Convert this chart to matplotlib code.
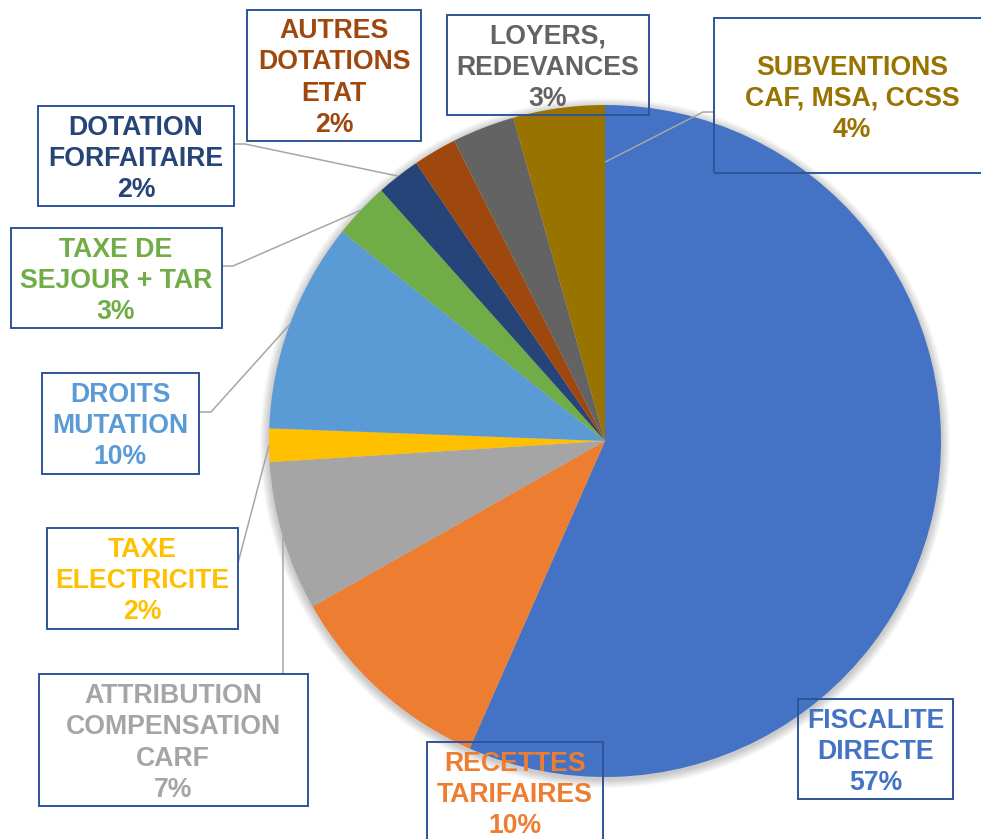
import numpy as np
import matplotlib
matplotlib.use("Agg")
import matplotlib.pyplot as plt
from matplotlib.patches import Rectangle, Circle

# data (share of revenue, %)
names = [
    "FISCALITE\nDIRECTE",
    "RECETTES\nTARIFAIRES",
    "ATTRIBUTION\nCOMPENSATION\nCARF",
    "TAXE\nELECTRICITE",
    "DROITS\nMUTATION",
    "TAXE DE\nSEJOUR + TAR",
    "DOTATION\nFORFAITAIRE",
    "AUTRES\nDOTATIONS\nETAT",
    "LOYERS,\nREDEVANCES",
    "SUBVENTIONS\nCAF, MSA, CCSS",
]
values = [56.6, 10.2, 7.2, 1.6, 10.1, 2.7, 2.1, 2.1, 3.0, 4.4]
colors = ["#4472C4", "#ED7D31", "#A5A5A5", "#FFC000", "#5B9BD5",
          "#70AD47", "#264478", "#9E480E", "#636363", "#997300"]

# layout, in pixels from the top-left corner
W, H = 981, 839
cx, cy, r = 605, 441, 336
boxes = [  # x0, y0, x1, y1
    (798, 699, 953, 799),
    (427, 742, 603, 860),
    (39, 674, 308, 806),
    (47, 528, 238, 629),
    (42, 373, 199, 474),
    (11, 228, 222, 328),
    (38, 106, 234, 206),
    (247, 10, 421, 141),
    (447, 15, 649, 115),
    (714, 18, 1000, 173),
]
text_pos = [(876, 752), (515, 795), (173, 743), (142, 581), (120, 426),
            (116, 281), (136, 159), (334, 78), (548, 68), (852, 99)]
leaders = {  # index: (points from box side, anchor on pie, radius fraction)
    9: ([(714, 112), (703, 112)], "end", 0.83),
    6: ([(234, 144), (245, 144)], "mid", 1.0),
    5: ([(222, 266), (233, 266)], "mid", 1.0),
    4: ([(199, 412), (211, 412)], "mid", 1.0),
    3: ([(238, 563)], "mid", 1.0),
    2: ([(283, 674)], "mid", 1.0),
}


def Y(y):
    return H - y


plt.rcParams["font.family"] = ["Liberation Sans", "DejaVu Sans"]
fig = plt.figure(figsize=(W / 100, H / 100), dpi=100)
ax = fig.add_axes([0, 0, 1, 1])

# soft shadow round the pie
for k in range(1, 10):
    ax.add_patch(Circle((cx, Y(cy + 2)), r + k, color="black", alpha=0.022, lw=0, zorder=0))

ax.pie(values, colors=colors, startangle=90, counterclock=False,
       center=(cx, Y(cy)), radius=r, frame=True,
       wedgeprops=dict(linewidth=0, zorder=1))

total = sum(values)
cum = np.concatenate([[0], np.cumsum(values)])

# leader lines
for i, (pts, kind, rf) in leaders.items():
    a0 = 360 * cum[i] / total
    a1 = 360 * cum[i + 1] / total
    ang = np.radians((a0 + a1) / 2 if kind == "mid" else a1)
    px = cx + rf * r * np.sin(ang)
    py = cy - rf * r * np.cos(ang)
    xs = [p[0] for p in pts] + [px]
    ys = [Y(p[1]) for p in pts] + [Y(py)]
    ax.plot(xs, ys, color="#A6A6A6", lw=1.1, zorder=3, solid_capstyle="butt")

# label boxes
for i, name in enumerate(names):
    x0, y0, x1, y1 = boxes[i]
    ax.add_patch(Rectangle((x0, Y(y1)), x1 - x0, y1 - y0, fill=False,
                           edgecolor="#2F5597", lw=1.4, zorder=4))
    pct = 100 * values[i] / total
    tx, ty = text_pos[i]
    ax.text(tx, Y(ty), f"{name}\n{pct:.0f}%", ha="center", va="center",
            color=colors[i], fontsize=19.2, fontweight="bold",
            linespacing=1.26, zorder=5)

ax.set_xlim(0, W)
ax.set_ylim(0, H)
ax.set_aspect("equal")
ax.axis("off")
fig.savefig("out.png", dpi=100, facecolor="white")
